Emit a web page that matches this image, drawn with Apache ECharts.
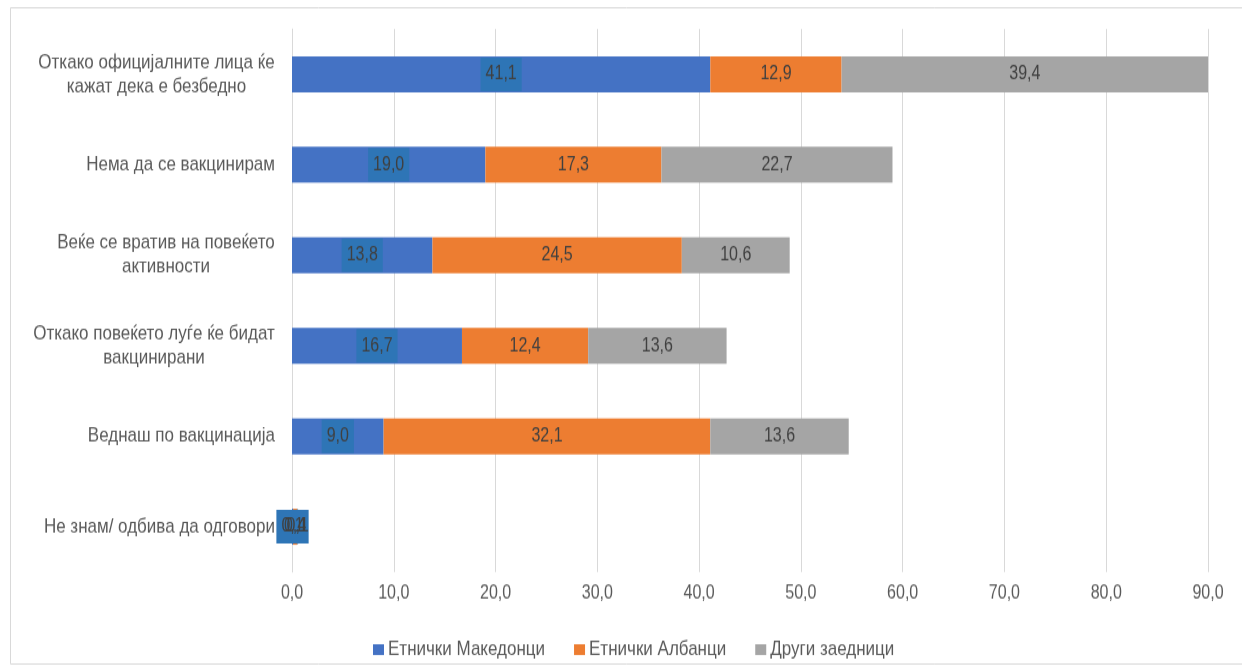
<!DOCTYPE html>
<html><head><meta charset="utf-8">
<script src="https://cdn.jsdelivr.net/npm/echarts@6/dist/echarts.min.js"></script>
<style>
html,body{margin:0;padding:0;background:#fff;overflow:hidden}
#wrap{width:1242px;height:667px;overflow:hidden}
#c{width:1242px;height:556px;transform:scaleY(1.19964);transform-origin:0 0}
</style>
</head><body><div id="wrap"><div id="c"></div></div>
<script>
const categories = [
  "Откако официјалните лица ќе\nкажат дека е безбедно",
  "Нема да се вакцинирам",
  "Веќе се вратив на повеќето\nактивности",
  "Откако повеќето луѓе ќе бидат\nвакцинирани",
  "Веднаш по вакцинација",
  "Не знам/ одбива да одговори"
];
const seriesNames = ["Етнички Македонци", "Етнички Албанци", "Други заедници"];
const macedonians = [41.1, 19.0, 13.8, 16.7, 9.0, 0.1];
const albanians   = [12.9, 17.3, 24.5, 12.4, 32.1, 0.4];
const others      = [39.4, 22.7, 10.6, 13.6, 13.6, 0.1];
const xTicks = [0, 10, 20, 30, 40, 50, 60, 70, 80, 90];

const FONT = '"Liberation Sans", Arial, sans-serif';
const fmt = v => v.toFixed(1).replace('.', ',');

// centered lines within right-aligned multi-line category labels
const cv = document.createElement('canvas').getContext('2d');
cv.font = '17px ' + FONT;
const rich = {};
categories.forEach((c, i) => {
  const lines = c.split('\n');
  const w = Math.ceil(Math.max(...lines.map(l => cv.measureText(l).width)));
  rich['l' + i] = { width: w, align: 'center', fontSize: 17, fontFamily: FONT, color: '#595959', lineHeight: 20 };
});
const catFormatter = (val, idx) => {
  const lines = val.split('\n');
  if (lines.length === 1) return val;
  return lines.map(l => '{l' + idx + '|' + l + '}').join('\n');
};

const colors = ['#4472C4', '#ED7D31', '#A5A5A5'];
const dataSets = [macedonians, albanians, others];

const chart = echarts.init(document.getElementById('c'));
chart.setOption({
  animation: false,
  graphic: [{
    type: 'rect', left: 8, top: 4,
    shape: { width: 1240, height: 547 },
    style: { fill: 'none', stroke: '#d9d9d9', lineWidth: 1 }
  }],
  grid: { left: 292, right: 34, top: 24.2, bottom: 79.2 },
  legend: {
    top: 528, left: 368,
    itemWidth: 11, itemHeight: 9, itemGap: 29,
    icon: 'rect',
    textStyle: { fontSize: 17, fontFamily: FONT, color: '#595959', padding: [0, 0, 0, -1] },
    data: seriesNames
  },
  xAxis: {
    type: 'value', min: 0, max: 90, interval: 10,
    axisLine: { show: false }, axisTick: { show: false },
    splitLine: { lineStyle: { color: '#d9d9d9', width: 1 } },
    axisLabel: {
      fontSize: 16, fontFamily: FONT, color: '#595959', margin: 10,
      formatter: v => xTicks.includes(v) ? fmt(v) : ''
    }
  },
  yAxis: {
    type: 'category', data: categories, inverse: true,
    axisLine: { show: true, lineStyle: { color: '#d9d9d9' } },
    axisTick: { show: false },
    axisLabel: {
      fontSize: 17, fontFamily: FONT, color: '#595959', margin: 17, lineHeight: 20,
      formatter: catFormatter, rich: rich
    }
  },
  series: dataSets.map((d, i) => ({
    name: seriesNames[i], type: 'bar', stack: 'total', barWidth: 30,
    itemStyle: { color: colors[i] },
    label: {
      show: true, position: 'inside', formatter: p => fmt(p.value),
      fontSize: 16, fontFamily: FONT, color: '#404040',
      backgroundColor: i === 0 ? '#2E75B6' : 'transparent',
      padding: i === 0 ? [6, 5] : 0
    },
    data: d
  }))
});
</script></body></html>
